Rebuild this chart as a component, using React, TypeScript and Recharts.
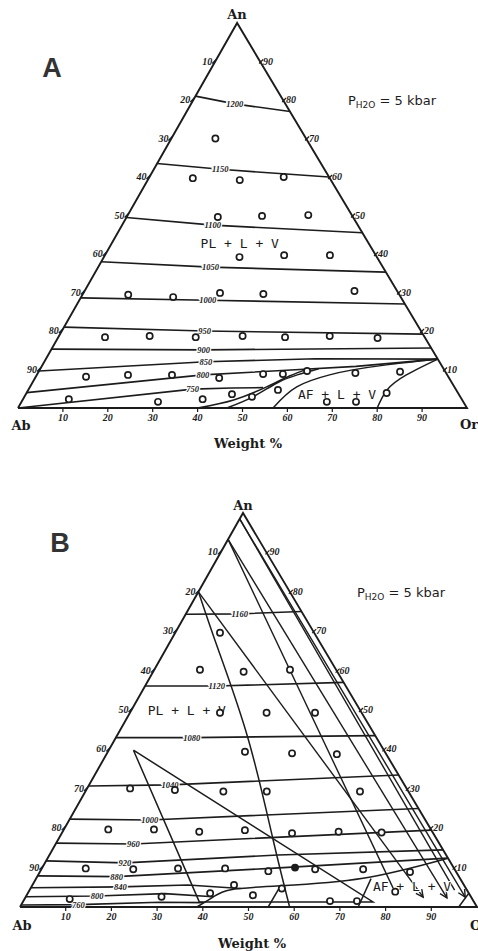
import React from 'react';
import { ScatterChart, Scatter, XAxis, YAxis } from 'recharts';

// compositions are [Or, An] in weight %, Ab is the remainder
type TP = [number, number];

const INK = '#1c1c1c';
const SKEW = 0.488; // apex sits a little left of the base midpoint
const ASPECT = 0.86; // px per An unit / px per x unit

const TICKS = [10, 20, 30, 40, 50, 60, 70, 80, 90];
const OUTLINE: TP[] = [[0, 0], [100, 0], [0, 100], [0, 0]];

// ---- diagram A ----
const isothermsA = [
  { t: '1200', at: [9.7, 79] as TP, pts: [[0, 81], [9.7, 79], [23, 77]] as TP[] },
  { t: '1150', at: [14.8, 62] as TP, pts: [[0, 63.5], [14.8, 62], [40, 60]] as TP[] },
  { t: '1100', at: [20.2, 47.5] as TP, pts: [[0, 49.5], [20.2, 47.5], [54.5, 45.5]] as TP[] },
  { t: '1050', at: [25, 36.6] as TP, pts: [[0, 38], [25, 36.6], [64.7, 35.3]] as TP[] },
  { t: '1000', at: [28.6, 28] as TP, pts: [[0, 28.6], [28.6, 28], [73, 27]] as TP[] },
  { t: '950', at: [31.8, 20] as TP, pts: [[0, 21], [31.8, 20], [80.8, 19.2]] as TP[] },
  { t: '900', at: [34, 15.1] as TP, pts: [[0, 15.3], [34, 15.1], [84.4, 15.6]] as TP[] },
  { t: '850', at: [36, 12] as TP, pts: [[0, 9.6], [36, 12], [60, 12.8], [87.3, 12.7]] as TP[] },
  { t: '800', at: [37, 8.6] as TP, pts: [[0, 4], [37, 8.6], [55, 9.8], [70, 10.8], [87.3, 12.7]] as TP[] },
  { t: '750', at: [36.5, 4.9] as TP, pts: [[0, 0], [36.5, 4.9], [45, 5.2], [52, 5.3]] as TP[] },
];

// field boundaries, drawn as smooth curves
const boundariesA: TP[][] = [
  [[40, 0], [47, 2.1], [52.7, 5.5], [56.4, 8.3], [59.5, 10.1]],
  [[46.5, 0], [50.9, 2.9], [54.5, 6.5], [58, 8.6], [62, 10.2]],
  [[56.8, 0], [59.4, 5.5], [65.2, 8.6], [69.7, 9.9], [76.6, 11.2], [87.3, 12.7]],
  [[80, 0], [79.9, 4.7], [82.3, 8.6], [87.3, 12.7]],
];

const pointsA: TP[] = [
  [9.8, 70],
  [9.8, 59.7], [20.5, 59.2], [29.9, 60],
  [20.3, 49.6], [30, 49.9], [40.2, 50.1],
  [30.2, 39.2], [39.9, 39.7], [50.1, 39.7],
  [10.2, 29.4], [20.5, 28.8], [30.4, 29.9], [40.2, 29.6], [60.1, 30.4],
  [10.4, 18.4], [20.2, 18.7], [30.6, 18.4], [40.9, 18.7], [50.5, 18.4], [60.3, 18.7], [71.2, 18.2],
  [11.2, 8.1], [20.3, 8.6], [30.1, 8.6], [41, 7.8], [50.3, 8.8], [54.7, 8.8], [59.7, 9.6], [70.7, 9.1], [80.5, 9.4],
  [10.2, 2.3], [30.4, 1.6], [40, 2.3], [45.9, 3.6], [50.7, 2.9], [55.6, 4.7], [68, 1.6], [74.5, 1.6], [80.2, 3.9],
];

const fieldsA = [
  { t: 'PL + L + V', at: [28.6, 42.6] as TP },
  { t: 'AF + L + V', at: [69.3, 3.6] as TP },
];

// ---- diagram B ----
const isothermsB = [
  { t: '1160', at: [11.8, 74.4] as TP, pts: [[0, 74.3], [11.8, 74.4], [25, 75]] as TP[] },
  { t: '1120', at: [15.7, 56.1] as TP, pts: [[0, 56.1], [15.7, 56.1], [43, 57]] as TP[] },
  { t: '1080', at: [16.6, 43] as TP, pts: [[0, 43], [16.6, 43], [56.5, 43.5]] as TP[] },
  { t: '1040', at: [17.7, 31] as TP, pts: [[0, 30.7], [17.7, 31], [66.5, 33.5]] as TP[] },
  { t: '1000', at: [17.6, 22.1] as TP, pts: [[0, 22.3], [17.6, 22.1], [75, 25]] as TP[] },
  { t: '960', at: [17, 16] as TP, pts: [[0, 16.2], [17, 16], [80.5, 19.5]] as TP[] },
  { t: '920', at: [17.5, 11.2] as TP, pts: [[0, 11.7], [17.5, 11.2], [50, 13.2], [85.5, 14.5]] as TP[] },
  { t: '880', at: [17.4, 7.7] as TP, pts: [[0, 7.9], [17.4, 7.7], [50, 9.8], [87.6, 12.4]] as TP[] },
  { t: '840', at: [19.5, 5.1] as TP, pts: [[0, 4.9], [19.5, 5.1], [34, 5.6], [46, 4.7]] as TP[] },
  { t: '800', at: [15.5, 2.8] as TP, pts: [[0, 2.6], [15.5, 2.8], [30, 3.4], [41, 2.6]] as TP[] },
  { t: '760', at: [12.5, 0.6] as TP, pts: [[0, 0.5], [12.5, 0.6], [30, 1.2], [39.5, 1.1]] as TP[] },
];

const boundariesB: TP[][] = [
  [[38.7, 0], [41, 2.5], [44, 4.4], [54.4, 5.4], [71.5, 7.3], [87.6, 12.4]],
  [[0, 80], [11.6, 65.2], [29.3, 42.4], [47.1, 17], [59, 0]],
];

// straight segments: short AF-field boundaries and the open wedge
const segmentsB: TP[][] = [
  [[54.3, 0], [54.4, 5.4]],
  [[74, 0], [73.3, 7.2]],
  [[96, 0], [96.5, 3.5]],
  [[5.4, 39.8], [38.6, 1.3], [76.6, 1.3], [5.4, 39.8]],
];

// tie lines, the arrowed ones point into the AF field
const tieLinesB: TP[][] = [
  [[0, 80], [87, 2.5]],
  [[0, 93.3], [79.3, 4.8]],
  [[0, 93.3], [92.3, 2.3]],
  [[0, 98.5], [93, 4.3]],
  [[0, 98.5], [96.2, 2.5]],
];
const arrowedB = [0, 2, 4];

const pointsB: TP[] = [
  [9.8, 69.6],
  [10, 60.2], [19.8, 59.7], [29.7, 60.2],
  [19.7, 49.3], [29.9, 49.3], [40.5, 49.3],
  [30, 39.4], [40.5, 39], [50.4, 38.8],
  [9.4, 30.1], [19.4, 29.7], [30.2, 29.3], [39.7, 29.3], [60.1, 29.3],
  [9.7, 19.7], [19.7, 19.7], [29.9, 19.1], [39.7, 19.5], [50.4, 18.7], [60.4, 19.1], [69.9, 18.9],
  [9.6, 9.8], [20.1, 9.6], [29.8, 9.8], [40.1, 9.8], [49.9, 9.1], [59.9, 9.6], [70.4, 9.6], [81, 8.9],
  [9.9, 2], [29.7, 2.6], [39.9, 3.5], [44.1, 5.6], [49.5, 3], [55, 4.7], [67.1, 1.5], [73, 1.5], [80.2, 3.9],
];
const filledB: TP[] = [[55.3, 10]];

const fieldsB = [
  { t: 'PL + L + V', at: [12.1, 50] as TP },
  { t: 'AF + L + V', at: [83.2, 5.3] as TP },
];

// ---- helpers ----
const toXY = ([or, an]: TP) => ({ x: or + SKEW * an, y: an });
const tern = (pts: TP[]) => pts.map(toXY);

function arrowHead(line: TP[], len = 1.6): TP[] {
  const [or0, an0] = line[line.length - 2];
  const [or1, an1] = line[line.length - 1];
  const x0 = or0 + SKEW * an0, y0 = an0 * ASPECT;
  const x1 = or1 + SKEW * an1, y1 = an1 * ASPECT;
  const d = Math.hypot(x1 - x0, y1 - y0);
  const ux = (x1 - x0) / d, uy = (y1 - y0) / d;
  const wing = (s: number): TP => {
    const wx = x1 - len * ux - s * len * 0.5 * uy;
    const wy = y1 - len * uy + s * len * 0.5 * ux;
    const an = wy / ASPECT;
    return [wx - SKEW * an, an];
  };
  return [wing(1), [or1, an1], wing(-1)];
}

const tickData = [
  ...TICKS.map((k) => ({ ...toXY([0, 100 - k]), t: String(k), side: 'l' })),
  ...TICKS.map((k) => ({ ...toXY([100 - k, k]), t: String(k), side: 'r' })),
  ...TICKS.map((k) => ({ ...toXY([k, 0]), t: String(k), side: 'b' })),
];

const numStyle: React.CSSProperties = {
  fontFamily: '"Liberation Serif", serif',
  fontStyle: 'italic',
  fontWeight: 700,
  fontSize: 10,
};
const isoStyle: React.CSSProperties = { ...numStyle, fontSize: 8.5 };

const NoDot = () => <g />;

const Dot = ({ cx, cy, payload }: any) => (
  <circle cx={cx} cy={cy} r={3.1} fill={payload.filled ? INK : '#fff'} stroke={INK} strokeWidth={1.7} />
);

const IsoLabel = ({ cx, cy, payload }: any) => (
  <text x={cx} y={cy + 3} textAnchor="middle" fill={INK} stroke="#fff" strokeWidth={2.5}
    paintOrder="stroke" style={isoStyle}>
    {payload.t}
  </text>
);

const FieldLabel = ({ cx, cy, payload }: any) => (
  <text x={cx} y={cy + 4.5} textAnchor="middle" fill={INK} stroke="#fff" strokeWidth={2}
    paintOrder="stroke" style={{ fontFamily: '"DejaVu Sans Mono", monospace', fontSize: 13 }}>
    {payload.t}
  </text>
);

const TickLabel = ({ cx, cy, payload }: any) => {
  if (payload.side === 'l') {
    return (
      <g>
        <line x1={cx - 3} y1={cy + 2} x2={cx + 1} y2={cy - 2} stroke={INK} strokeWidth={1.2} />
        <text x={cx - 3} y={cy + 3} textAnchor="end" fill={INK} style={numStyle}>{payload.t}</text>
      </g>
    );
  }
  if (payload.side === 'r') {
    return (
      <g>
        <line x1={cx - 1} y1={cy + 2} x2={cx + 3} y2={cy - 2} stroke={INK} strokeWidth={1.2} />
        <text x={cx + 3} y={cy + 3} textAnchor="start" fill={INK} style={numStyle}>{payload.t}</text>
      </g>
    );
  }
  return (
    <g>
      <line x1={cx} y1={cy + 1} x2={cx} y2={cy + 4} stroke={INK} strokeWidth={1.2} />
      <text x={cx} y={cy + 13} textAnchor="middle" fill={INK} style={numStyle}>{payload.t}</text>
    </g>
  );
};

const path = (key: string, pts: TP[], width = 1.6, curve: any = 'linear') => (
  <Scatter key={key} data={tern(pts)} line={{ stroke: INK, strokeWidth: width }} lineJointType={curve}
    shape={NoDot} isAnimationActive={false} />
);

type Iso = { t: string; at: TP; pts: TP[] };

interface PanelProps {
  top: number;
  height: number;
  margin: { top: number; right: number; bottom: number; left: number };
  isotherms: Iso[];
  boundaries: TP[][];
  segments?: TP[][];
  ties?: TP[][];
  arrowed?: number[];
  points: TP[];
  filled?: TP[];
  fields: { t: string; at: TP }[];
}

function TernaryPanel({
  top, height, margin, isotherms, boundaries, segments = [], ties = [], arrowed = [], points, filled = [], fields,
}: PanelProps) {
  const dots = [
    ...points.map((p) => ({ ...toXY(p), filled: false })),
    ...filled.map((p) => ({ ...toXY(p), filled: true })),
  ];
  return (
    <div style={{ position: 'absolute', left: 0, top }}>
      <ScatterChart width={478} height={height} margin={margin}>
        <XAxis type="number" dataKey="x" domain={[0, 100]} hide />
        <YAxis type="number" dataKey="y" domain={[0, 100]} hide />
        {path('outline', OUTLINE, 1.9)}
        {isotherms.map((iso) => path('iso' + iso.t, iso.pts, 1.6))}
        {boundaries.map((b, i) => path('bd' + i, b, 1.5, 'natural'))}
        {segments.map((s, i) => path('seg' + i, s, 1.5))}
        {ties.map((t, i) => path('tie' + i, t, 1.4))}
        {arrowed.map((i) => path('arr' + i, arrowHead(ties[i]), 1.4))}
        <Scatter data={isotherms.map((iso) => ({ ...toXY(iso.at), t: iso.t }))} shape={IsoLabel} isAnimationActive={false} />
        <Scatter data={tickData} shape={TickLabel} isAnimationActive={false} />
        <Scatter data={fields.map((f) => ({ ...toXY(f.at), t: f.t }))} shape={FieldLabel} isAnimationActive={false} />
        <Scatter data={dots} shape={Dot} isAnimationActive={false} />
      </ScatterChart>
    </div>
  );
}

const Tag = ({ x, y, children, style, left = false }: any) => (
  <div
    style={{
      position: 'absolute',
      left: x,
      top: y,
      transform: left ? 'translateY(-50%)' : 'translate(-50%, -50%)',
      whiteSpace: 'nowrap',
      lineHeight: 1,
      color: INK,
      ...style,
    }}
  >
    {children}
  </div>
);

const vertexFont: React.CSSProperties = { fontFamily: '"DejaVu Serif", serif', fontWeight: 700, fontSize: 13 };
const letterFont: React.CSSProperties = { fontFamily: '"Liberation Sans", Arial, sans-serif', fontWeight: 700, fontSize: 27, color: '#333' };
const pressFont: React.CSSProperties = { fontFamily: '"DejaVu Sans", sans-serif', fontSize: 13 };

const Pressure = () => (
  <span>
    P<span style={{ fontSize: 9, position: 'relative', top: 3 }}>H2O</span> = 5 kbar
  </span>
);

export default function App() {
  return (
    <div style={{ position: 'absolute', left: 0, top: 0, width: 478, height: 951, overflow: 'hidden', background: '#fff' }}>
      <TernaryPanel
        top={0}
        height={440}
        margin={{ top: 23, right: 11, bottom: 32, left: 18 }}
        isotherms={isothermsA}
        boundaries={boundariesA}
        points={pointsA}
        fields={fieldsA}
      />
      <TernaryPanel
        top={470}
        height={481}
        margin={{ top: 43, right: 1, bottom: 44, left: 20 }}
        isotherms={isothermsB}
        boundaries={boundariesB}
        segments={segmentsB}
        ties={tieLinesB}
        arrowed={arrowedB}
        points={pointsB}
        filled={filledB}
        fields={fieldsB}
      />

      <Tag x={52} y={68} style={letterFont}>A</Tag>
      <Tag x={237} y={14} style={vertexFont}>An</Tag>
      <Tag x={21} y={425} style={vertexFont}>Ab</Tag>
      <Tag x={460} y={424} left style={vertexFont}>Or</Tag>
      <Tag x={248} y={443} style={vertexFont}>Weight %</Tag>
      <Tag x={392} y={100} style={pressFont}><Pressure /></Tag>

      <Tag x={60} y={543} style={letterFont}>B</Tag>
      <Tag x={243} y={505} style={vertexFont}>An</Tag>
      <Tag x={22} y={925} style={vertexFont}>Ab</Tag>
      <Tag x={470} y={925} left style={vertexFont}>Or</Tag>
      <Tag x={252} y={943} style={vertexFont}>Weight %</Tag>
      <Tag x={401} y={592} style={pressFont}><Pressure /></Tag>
    </div>
  );
}
